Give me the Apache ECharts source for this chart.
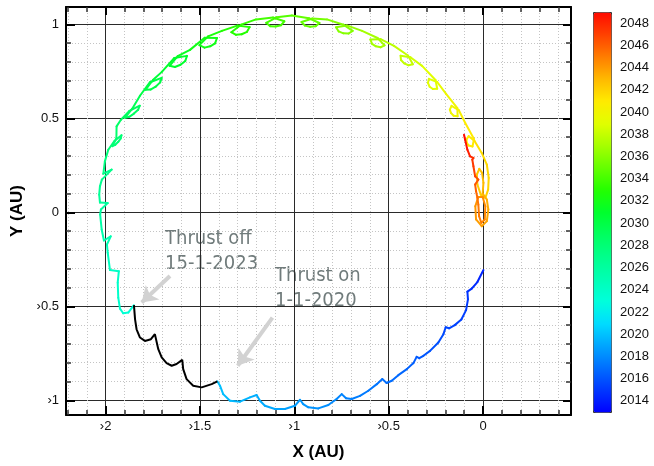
<!DOCTYPE html>
<html>
<head>
<meta charset="utf-8">
<script src="https://cdn.jsdelivr.net/npm/echarts@6/dist/echarts.min.js"></script>
<style>
  html, body { margin: 0; padding: 0; background: #fff; }
  #chart { width: 654px; height: 466px; }
</style>
</head>
<body>
<div id="chart"></div>
<script>
// axis extents (AU) and colour scale (years)
const X_MIN = -2.21, X_MAX = 0.466;
const Y_MIN = -1.078, Y_MAX = 1.092;
const YEAR_MIN = 2013, YEAR_MAX = 2049;

const xMajorTicks = [-2, -1.5, -1, -0.5, 0];
const xTickLabels = ['›2', '›1.5', '›1', '›0.5', '0'];
const xMinorTicks = [-2.2, -2.1, -1.9, -1.8, -1.7, -1.6, -1.4, -1.3, -1.2, -1.1, -0.9, -0.8, -0.7, -0.6,
  -0.4, -0.3, -0.2, -0.1, 0.1, 0.2, 0.3, 0.4];
const yMajorTicks = [-1, -0.5, 0, 0.5, 1];
const yTickLabels = ['›1', '›0.5', '0', '0.5', '1'];
const yMinorTicks = [-0.9, -0.8, -0.7, -0.6, -0.4, -0.3, -0.2, -0.1, 0.1, 0.2, 0.3, 0.4, 0.6, 0.7, 0.8, 0.9];
const yearTicks = [2014, 2016, 2018, 2020, 2022, 2024, 2026, 2028, 2030, 2032, 2034, 2036, 2038, 2040, 2042, 2044, 2046, 2048];
// colour every two years, 2013 .. 2049
const yearColors = ['#0000ff', '#0037ff', '#006eff', '#00a5ff', '#00dcff', '#00ffdc', '#00ffb4', '#00ff8c',
  '#00ff5f', '#00ff2d', '#23ff00', '#64ff00', '#a5ff00', '#e1ff00', '#ffeb00', '#ffb900', '#ff7d00', '#ff4100', '#ff0a00'];

// coast phase before thrust: [x AU, y AU, year]
const preThrust = [
  [0.002, -0.307, 2014.0], [-0.030, -0.371, 2014.3], [-0.060, -0.406, 2014.55], [-0.083, -0.422, 2014.75],
  [-0.080, -0.463, 2014.9], [-0.090, -0.520, 2015.1], [-0.115, -0.570, 2015.25], [-0.150, -0.600, 2015.35],
  [-0.180, -0.617, 2015.45], [-0.198, -0.611, 2015.5],
  [-0.210, -0.648, 2015.6], [-0.237, -0.692, 2015.75], [-0.281, -0.737, 2015.95], [-0.316, -0.763, 2016.1],
  [-0.338, -0.776, 2016.2], [-0.352, -0.769, 2016.25],
  [-0.369, -0.802, 2016.35], [-0.404, -0.834, 2016.5], [-0.449, -0.866, 2016.7], [-0.484, -0.896, 2016.85],
  [-0.511, -0.908, 2016.95], [-0.534, -0.887, 2017.0],
  [-0.563, -0.914, 2017.1], [-0.608, -0.949, 2017.3], [-0.652, -0.976, 2017.45], [-0.696, -0.993, 2017.6],
  [-0.726, -0.989, 2017.7], [-0.749, -0.967, 2017.75],
  [-0.776, -0.993, 2017.85], [-0.820, -1.025, 2018.0], [-0.873, -1.043, 2018.2], [-0.926, -1.037, 2018.35],
  [-0.953, -1.020, 2018.45], [-0.970, -0.997, 2018.5],
  [-0.997, -1.029, 2018.6], [-1.050, -1.046, 2018.8], [-1.103, -1.046, 2018.95], [-1.156, -1.029, 2019.1],
  [-1.182, -1.002, 2019.2], [-1.200, -0.972, 2019.25],
  [-1.235, -0.984, 2019.35], [-1.288, -1.007, 2019.55], [-1.341, -1.002, 2019.7], [-1.377, -0.967, 2019.85],
  [-1.394, -0.922, 2019.95], [-1.408, -0.899, 2020.0]
];

// thrust arc 1-1-2020 .. 15-1-2023 (drawn black)
const thrustArc = [
  [-1.408, -0.899], [-1.438, -0.914], [-1.491, -0.931], [-1.536, -0.922], [-1.571, -0.887], [-1.589, -0.834],
  [-1.594, -0.785], [-1.624, -0.807], [-1.650, -0.816], [-1.677, -0.802], [-1.703, -0.772], [-1.721, -0.728],
  [-1.739, -0.648], [-1.760, -0.675], [-1.792, -0.684], [-1.818, -0.666], [-1.836, -0.622], [-1.844, -0.569],
  [-1.850, -0.494]
];

// coast phase after thrust: [x AU, y AU, year]
const postThrust = [
  [-1.850, -0.494, 2023.04], [-1.880, -0.533, 2023.2], [-1.907, -0.537, 2023.35], [-1.924, -0.512, 2023.5],
  [-1.933, -0.454, 2023.7], [-1.936, -0.374, 2023.9], [-1.930, -0.313, 2024.0],
  [-1.977, -0.307, 2024.1], [-1.989, -0.215, 2024.4], [-1.993, -0.171, 2024.7], [-1.973, -0.128, 2025.0],
  [-2.009, -0.150, 2025.1], [-2.021, -0.091, 2025.3], [-2.029, -0.012, 2025.6], [-2.025, 0.015, 2025.8],
  [-1.989, 0.049, 2026.0],
  [-2.030, 0.052, 2026.1], [-2.034, 0.094, 2026.3], [-2.030, 0.139, 2026.6], [-2.020, 0.174, 2026.8],
  [-1.968, 0.227, 2027.0],
  [-2.012, 0.206, 2027.1], [-2.004, 0.271, 2027.4], [-1.986, 0.333, 2027.7],
  [-1.952, 0.381, 2028], [-1.916, 0.410, 2028], [-1.920, 0.393, 2028], [-1.933, 0.375, 2028],
  [-1.949, 0.359, 2028], [-1.964, 0.352, 2028], [-1.943, 0.393, 2028],
  [-1.942, 0.457, 2028.4], [-1.919, 0.492, 2028.7],
  [-1.874, 0.539, 2029], [-1.819, 0.567, 2029], [-1.828, 0.545, 2029], [-1.850, 0.525, 2029],
  [-1.875, 0.508, 2029], [-1.897, 0.503, 2029], [-1.859, 0.551, 2029],
  [-1.818, 0.620, 2029.5],
  [-1.765, 0.692, 2030], [-1.703, 0.715, 2030], [-1.711, 0.691, 2030], [-1.735, 0.668, 2030],
  [-1.762, 0.653, 2030], [-1.788, 0.652, 2030], [-1.748, 0.705, 2030],
  [-1.702, 0.747, 2030.5],
  [-1.636, 0.821, 2031], [-1.569, 0.832, 2031], [-1.578, 0.805, 2031], [-1.603, 0.785, 2031],
  [-1.633, 0.773, 2031], [-1.661, 0.779, 2031], [-1.618, 0.831, 2031],
  [-1.553, 0.864, 2031.5],
  [-1.475, 0.928, 2032], [-1.410, 0.927, 2032], [-1.420, 0.899, 2032], [-1.446, 0.883, 2032],
  [-1.476, 0.876, 2032], [-1.503, 0.889, 2032], [-1.457, 0.936, 2032],
  [-1.384, 0.965, 2032.5],
  [-1.302, 0.993, 2033], [-1.237, 0.985, 2033], [-1.251, 0.960, 2033], [-1.279, 0.947, 2033],
  [-1.309, 0.944, 2033], [-1.334, 0.958, 2033], [-1.282, 0.998, 2033],
  [-1.203, 1.026, 2033.5],
  [-1.113, 1.036, 2034], [-1.053, 1.016, 2034], [-1.071, 0.995, 2034], [-1.099, 0.988, 2034],
  [-1.128, 0.990, 2034], [-1.149, 1.008, 2034], [-1.094, 1.037, 2034],
  [-1.013, 1.047, 2034.5],
  [-0.923, 1.032, 2035], [-0.867, 1.007, 2035], [-0.887, 0.990, 2035], [-0.916, 0.987, 2035],
  [-0.944, 0.993, 2035], [-0.962, 1.012, 2035], [-0.904, 1.031, 2035],
  [-0.827, 1.026, 2035.5],
  [-0.740, 0.998, 2036], [-0.691, 0.965, 2036], [-0.712, 0.951, 2036], [-0.740, 0.952, 2036],
  [-0.765, 0.962, 2036], [-0.779, 0.984, 2036], [-0.722, 0.994, 2036],
  [-0.641, 0.965, 2036.5],
  [-0.559, 0.927, 2037], [-0.522, 0.888, 2037], [-0.543, 0.878, 2037], [-0.568, 0.883, 2037],
  [-0.588, 0.896, 2037], [-0.597, 0.919, 2037], [-0.543, 0.921, 2037],
  [-0.472, 0.885, 2037.5],
  [-0.398, 0.834, 2038], [-0.372, 0.788, 2038], [-0.395, 0.782, 2038], [-0.418, 0.792, 2038],
  [-0.435, 0.810, 2038], [-0.437, 0.833, 2038], [-0.385, 0.825, 2038],
  [-0.323, 0.779, 2038.5],
  [-0.252, 0.704, 2039], [-0.243, 0.657, 2039], [-0.266, 0.656, 2039], [-0.283, 0.668, 2039],
  [-0.292, 0.688, 2039], [-0.287, 0.710, 2039], [-0.243, 0.693, 2039],
  [-0.196, 0.630, 2039.5],
  [-0.136, 0.554, 2040], [-0.135, 0.511, 2040], [-0.156, 0.514, 2040], [-0.170, 0.528, 2040],
  [-0.176, 0.546, 2040], [-0.167, 0.566, 2040], [-0.129, 0.544, 2040],
  [-0.095, 0.476, 2040.5],
  [-0.048, 0.390, 2041], [-0.056, 0.350, 2041], [-0.076, 0.355, 2041], [-0.086, 0.370, 2041],
  [-0.088, 0.388, 2041], [-0.076, 0.405, 2041], [-0.045, 0.379, 2041],
  [-0.007, 0.316, 2041.4], [0.020, 0.254, 2041.6], [0.030, 0.183, 2041.8], [0.027, 0.121, 2041.9],
  [0.012, 0.077, 2042.0], [-0.012, 0.094, 2042.2], [-0.030, 0.148, 2042.3], [-0.033, 0.201, 2042.4],
  [-0.020, 0.231, 2042.5], [-0.005, 0.210, 2042.6], [0.002, 0.157, 2042.8], [-0.002, 0.100, 2043.0],
  [0.020, 0.068, 2043.2], [0.028, 0.015, 2043.4], [0.020, -0.047, 2043.6], [-0.007, -0.074, 2043.7],
  [-0.037, -0.038, 2043.9], [-0.041, 0.032, 2044.1], [-0.025, 0.082, 2044.2], [-0.002, 0.082, 2044.3],
  [0.012, 0.032, 2044.5], [0.009, -0.038, 2044.7], [-0.009, -0.056, 2044.8], [-0.021, -0.021, 2045.0],
  [-0.025, 0.041, 2045.15], [-0.030, 0.077, 2045.3],
  [-0.037, 0.112, 2045.6], [-0.042, 0.148, 2045.9], [-0.025, 0.174, 2046.3], [-0.042, 0.192, 2046.5],
  [-0.051, 0.245, 2046.9], [-0.057, 0.280, 2047.3], [-0.051, 0.289, 2047.5], [-0.069, 0.298, 2047.7],
  [-0.083, 0.333, 2048.2], [-0.095, 0.386, 2048.7], [-0.101, 0.413, 2049.0]
];

// annotation arrows: [tail, head] in AU
const arrows = [
  [[-1.659, -0.339], [-1.809, -0.480]],
  [[-1.116, -0.560], [-1.300, -0.816]]
];

function labelFor(values, labels) {
  return function (v) {
    const i = values.findIndex(t => Math.abs(t - v) < 1e-9);
    return i < 0 ? '' : labels[i];
  };
}

// one short segment from the previous point to this one, coloured by year
function renderTrack(params, api) {
  const i = params.dataIndexInside;
  if (i === 0) return;
  const p0 = api.coord([api.value(0, i - 1), api.value(1, i - 1)]);
  const p1 = api.coord([api.value(0, i), api.value(1, i)]);
  return {
    type: 'line',
    shape: { x1: p0[0], y1: p0[1], x2: p1[0], y2: p1[1] },
    style: { stroke: api.visual('color'), lineWidth: 2, lineCap: 'round' }
  };
}

const frameLine = { onZero: false, lineStyle: { color: '#000', width: 2 } };
const majorSplit = { show: true, lineStyle: { color: '#2a2a2a', width: 1 } };
const minorSplit = { show: true, lineStyle: { color: '#c4c4c4', width: 1, type: [1, 2] } };
const tickFont = { color: '#111', fontSize: 13, fontFamily: 'Liberation Sans' };
const titleFont = { color: '#000', fontSize: 17, fontWeight: 'bold', fontFamily: 'Liberation Sans' };

const chart = echarts.init(document.getElementById('chart'));

chart.setOption({
  animation: false,
  grid: [
    { left: 66, right: 83, top: 7, bottom: 50 },
    { left: 593, top: 12, width: 18, height: 400 }
  ],
  xAxis: [
    {
      gridIndex: 0, type: 'value', min: X_MIN, max: X_MAX, position: 'bottom',
      axisLine: frameLine,
      axisTick: { inside: true, length: 9, customValues: xMajorTicks, lineStyle: { color: '#000', width: 2 } },
      axisLabel: Object.assign({ customValues: xMajorTicks, formatter: labelFor(xMajorTicks, xTickLabels), margin: 5 }, tickFont),
      splitLine: majorSplit,
      name: 'X (AU)', nameLocation: 'middle', nameGap: 29, nameTextStyle: titleFont
    },
    {
      gridIndex: 0, type: 'value', min: X_MIN, max: X_MAX, position: 'bottom',
      axisLine: { show: false, onZero: false },
      axisTick: { inside: true, length: 5, customValues: xMinorTicks, lineStyle: { color: '#333', width: 1.5 } },
      axisLabel: { show: false },
      splitLine: minorSplit
    },
    {
      gridIndex: 0, type: 'value', min: X_MIN, max: X_MAX, position: 'top',
      axisLine: frameLine,
      axisTick: { inside: true, length: 8, customValues: xMajorTicks, lineStyle: { color: '#000', width: 2 } },
      axisLabel: { show: false }, splitLine: { show: false }
    },
    {
      gridIndex: 0, type: 'value', min: X_MIN, max: X_MAX, position: 'top',
      axisLine: { show: false, onZero: false },
      axisTick: { inside: true, length: 5, customValues: xMinorTicks, lineStyle: { color: '#333', width: 1.5 } },
      axisLabel: { show: false }, splitLine: { show: false }
    },
    { gridIndex: 1, type: 'value', show: false, min: 0, max: 1 }
  ],
  yAxis: [
    {
      gridIndex: 0, type: 'value', min: Y_MIN, max: Y_MAX, position: 'left',
      axisLine: frameLine,
      axisTick: { inside: true, length: 9, customValues: yMajorTicks, lineStyle: { color: '#000', width: 2 } },
      axisLabel: Object.assign({ customValues: yMajorTicks, formatter: labelFor(yMajorTicks, yTickLabels), margin: 7 }, tickFont),
      splitLine: majorSplit,
      name: 'Y (AU)', nameLocation: 'middle', nameGap: 33, nameTextStyle: titleFont
    },
    {
      gridIndex: 0, type: 'value', min: Y_MIN, max: Y_MAX, position: 'left',
      axisLine: { show: false, onZero: false },
      axisTick: { inside: true, length: 5, customValues: yMinorTicks, lineStyle: { color: '#333', width: 1.5 } },
      axisLabel: { show: false },
      splitLine: minorSplit
    },
    {
      gridIndex: 0, type: 'value', min: Y_MIN, max: Y_MAX, position: 'right',
      axisLine: frameLine,
      axisTick: { inside: true, length: 8, customValues: yMajorTicks, lineStyle: { color: '#000', width: 2 } },
      axisLabel: { show: false }, splitLine: { show: false }
    },
    {
      gridIndex: 0, type: 'value', min: Y_MIN, max: Y_MAX, position: 'right',
      axisLine: { show: false, onZero: false },
      axisTick: { inside: true, length: 5, customValues: yMinorTicks, lineStyle: { color: '#333', width: 1.5 } },
      axisLabel: { show: false }, splitLine: { show: false }
    },
    {
      // labels of the colour bar
      gridIndex: 1, type: 'value', min: YEAR_MIN, max: YEAR_MAX, position: 'right',
      axisLine: { show: false }, axisTick: { show: false }, splitLine: { show: false },
      axisLabel: Object.assign({ customValues: yearTicks, margin: 9, formatter: v => String(v) }, tickFont)
    }
  ],
  visualMap: {
    type: 'continuous',
    min: YEAR_MIN, max: YEAR_MAX,
    dimension: 2,
    seriesIndex: [0, 2],
    left: 593, top: 12,
    itemWidth: 18, itemHeight: 400,
    padding: 0,
    borderColor: '#333', borderWidth: 1,
    calculable: false,
    hoverLink: false,
    inRange: { color: yearColors }
  },
  graphic: [
    {
      type: 'text', left: 165, top: 226, silent: true,
      style: { text: 'Thrust off\n15-1-2023', fill: '#707b7b', fontSize: 20, lineHeight: 25, fontFamily: 'DejaVu Sans Condensed' }
    },
    {
      type: 'text', left: 275, top: 263, silent: true,
      style: { text: 'Thrust on\n1-1-2020', fill: '#707b7b', fontSize: 20, lineHeight: 25, fontFamily: 'DejaVu Sans Condensed' }
    }
  ],
  series: [
    {
      name: 'coast before', type: 'custom', xAxisIndex: 0, yAxisIndex: 0,
      dimensions: ['x', 'y', 'year'], encode: { x: 0, y: 1 },
      renderItem: renderTrack, data: preThrust, z: 3
    },
    {
      name: 'thrust', type: 'line', xAxisIndex: 0, yAxisIndex: 0,
      data: thrustArc, showSymbol: false, symbol: 'none',
      lineStyle: { color: '#000', width: 2 }, z: 3,
      markLine: {
        silent: true,
        symbol: ['none', 'arrow'], symbolSize: 15,
        lineStyle: { color: '#d2d2d2', width: 4, type: 'solid' },
        itemStyle: { color: '#d2d2d2' },
        label: { show: false },
        emphasis: { disabled: true },
        data: arrows.map(a => [{ coord: a[0] }, { coord: a[1] }])
      }
    },
    {
      name: 'coast after', type: 'custom', xAxisIndex: 0, yAxisIndex: 0,
      dimensions: ['x', 'y', 'year'], encode: { x: 0, y: 1 },
      renderItem: renderTrack, data: postThrust, z: 3
    }
  ]
});
</script>
</body>
</html>
